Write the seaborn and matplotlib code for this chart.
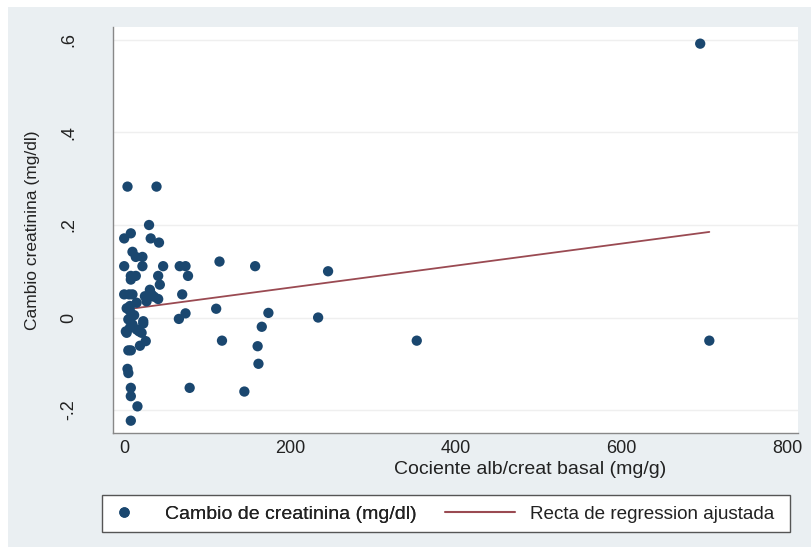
import numpy as np
import pandas as pd
import seaborn as sns
import matplotlib.pyplot as plt
from matplotlib.patches import Rectangle
from matplotlib.lines import Line2D

# valores
alb_creat = [4, 39, 30, 0, 8, 32, 42,
             10, 14, 22, 0, 22, 47, 67, 74,
             115, 158, 246,
             8, 8, 41, 43, 77,
             6, 10, 25, 33, 27, 41, 70,
             111, 3, 7, 15, 7, 5, 23,
             66, 74, 174, 234, 166,
             118, 161, 162, 79, 145,
             23, 18, 2, 7, 15, 21, 3,
             26, 19, 5, 8, 4, 5,
             8, 8, 16, 8,
             12, 10, 0, 14, 31, 36,
             695, 706, 353]
cambio_creat = [0.283, 0.283, 0.200, 0.171, 0.182, 0.171, 0.162,
                0.142, 0.131, 0.131, 0.111, 0.111, 0.111, 0.111, 0.111,
                0.121, 0.111, 0.100,
                0.090, 0.082, 0.090, 0.071, 0.090,
                0.050, 0.050, 0.046, 0.050, 0.035, 0.040, 0.050,
                0.019, 0.020, 0.025, 0.032, 0.014, -0.004, -0.008,
                -0.003, 0.009, 0.010, 0.000, -0.020,
                -0.050, -0.062, -0.100, -0.152, -0.160,
                -0.013, -0.030, -0.030, -0.022, -0.026, -0.033, -0.033,
                -0.051, -0.061, -0.071, -0.071, -0.111, -0.120,
                -0.152, -0.170, -0.192, -0.223,
                0.005, -0.015, 0.050, 0.090, 0.060, 0.045,
                0.592, -0.050, -0.050]

# recta ajustada (intercepto, pendiente)
intercepto = 0.017
pendiente = 0.000238

x_ticks = [0, 200, 400, 600, 800]
y_ticks = [-0.2, 0, 0.2, 0.4, 0.6]
y_ticklabels = ['-.2', '0', '.2', '.4', '.6']

df = pd.DataFrame({'x': alb_creat, 'y': cambio_creat})
x_fit = np.array([df.x.min(), df.x.max()])
fit = pd.DataFrame({'x': x_fit, 'y': intercepto + pendiente * x_fit})

navy = '#1a476f'
maroon = '#9a4a52'
fondo = '#eaeff2'
texto = '#222222'

sns.set_style('white')
plt.rcParams['font.family'] = ['Liberation Sans', 'DejaVu Sans']

W, H = 811, 551
fig = plt.figure(figsize=(W / 100, H / 100), dpi=100)
fig.patches.append(Rectangle((8 / W, 1 - 547 / H), 803 / W, 540 / H,
                             transform=fig.transFigure, facecolor=fondo,
                             edgecolor='none', zorder=-10))
ax = fig.add_axes([113 / W, 1 - 433 / H, 685 / W, 406 / H])
ax.set_facecolor('white')

for yt in y_ticks:
    ax.axhline(yt, color='#efefef', lw=1, zorder=0)

sns.scatterplot(data=df, x='x', y='y', ax=ax, color=navy, s=55,
                edgecolor='none', zorder=3)
sns.lineplot(data=fit, x='x', y='y', ax=ax, color=maroon, lw=1.3, zorder=2)

ax.set_xlim(-13.5, 813)
ax.set_ylim(-0.2496, 0.628)
ax.set_xticks(x_ticks)
ax.set_yticks(y_ticks)
ax.set_yticklabels(y_ticklabels, rotation=90, va='center')

for s in ['top', 'right']:
    ax.spines[s].set_visible(False)
for s in ['left', 'bottom']:
    ax.spines[s].set_color('#888888')
    ax.spines[s].set_linewidth(1)

ax.tick_params(axis='y', length=6, width=1, color='#888888', pad=20,
               labelsize=13, labelcolor=texto)
ax.tick_params(axis='x', length=4, width=1, color='#888888', pad=1,
               labelsize=13, labelcolor=texto)
ax.set_xlabel('Cociente alb/creat basal (mg/g)', fontsize=14, color=texto,
              labelpad=0)
ax.xaxis.set_label_coords((530 - 113) / 685, -0.068)
ax.set_ylabel('Cambio creatinina (mg/dl)', fontsize=12.5, color=texto,
              labelpad=14)

# leyenda
fig.patches.append(Rectangle((102 / W, 1 - 532 / H), 688 / W, 37 / H,
                             transform=fig.transFigure, facecolor='white',
                             edgecolor='#555555', lw=1, zorder=-5))
y_leg = 1 - 514 / H
leg1 = fig.legend([Line2D([], [], marker='o', ls='none', color=navy,
                          markersize=6.5)],
                  ['Cambio de creatinina (mg/dl)'],
                  loc='center left', bbox_to_anchor=(114.6 / W, y_leg),
                  fontsize=14, frameon=False, borderpad=0, borderaxespad=0,
                  handlelength=1.0, handletextpad=1.6, labelcolor=texto)
leg2 = fig.legend([Line2D([], [], color=maroon, lw=1.5)],
                  ['Recta de regression ajustada'],
                  loc='center left', bbox_to_anchor=(445 / W, y_leg),
                  fontsize=13.6, frameon=False, borderpad=0, borderaxespad=0,
                  handlelength=3.7, handletextpad=0.8, labelcolor=texto)
fig.add_artist(leg1)

fig.savefig('out.png', dpi=100)
